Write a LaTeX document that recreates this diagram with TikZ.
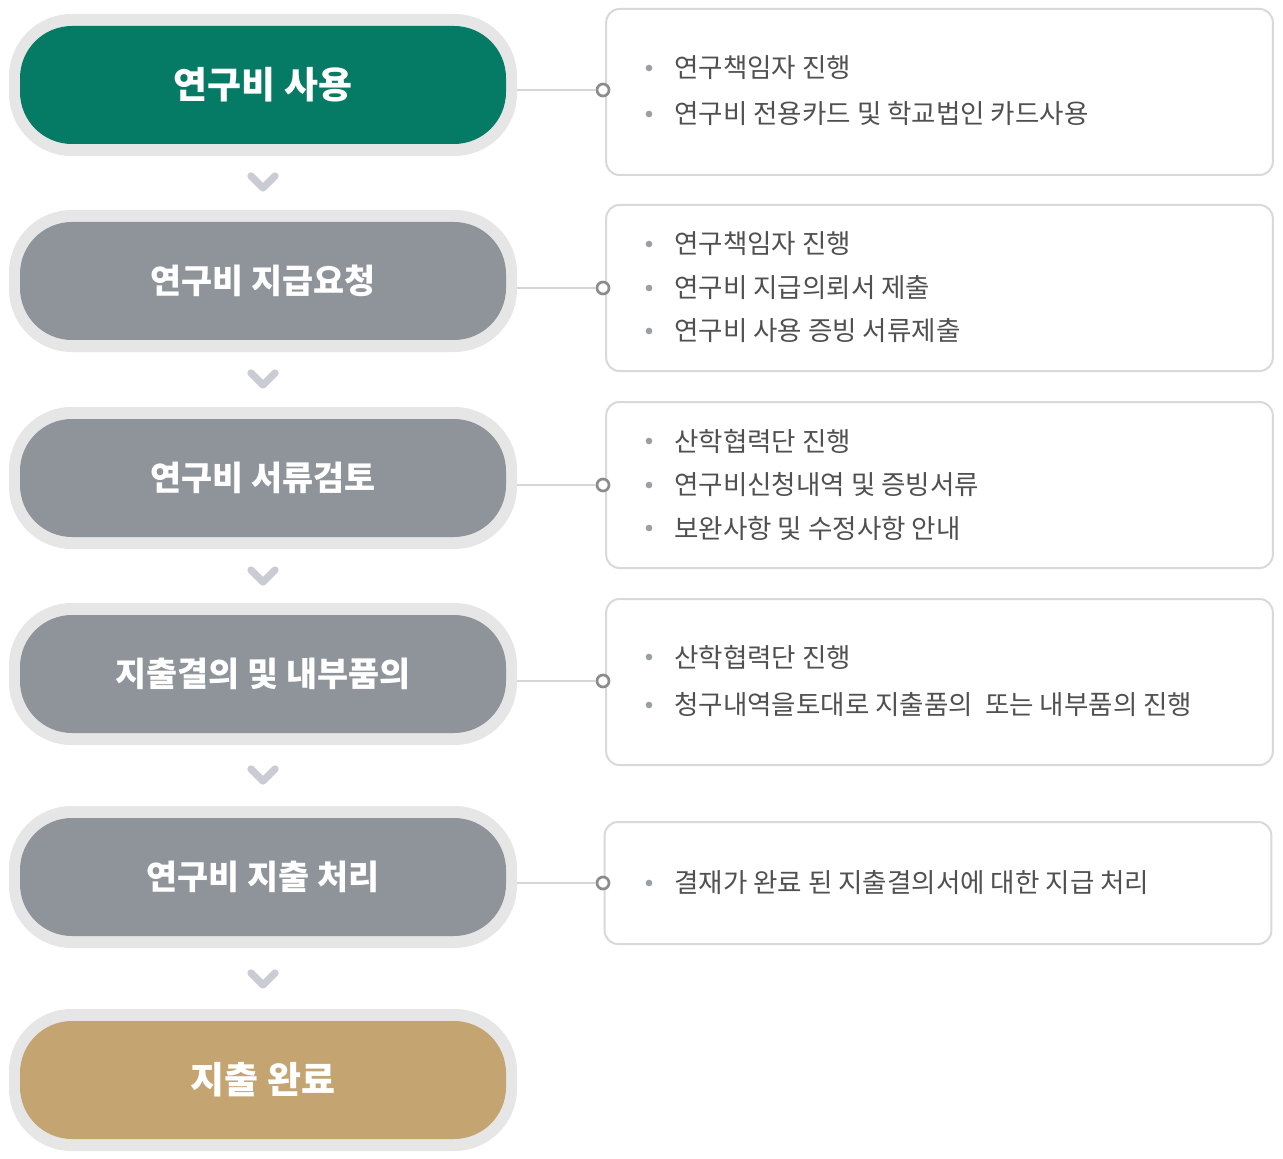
\documentclass[tikz,border=0pt]{standalone}
\usepackage{fontspec}
\setmainfont{Noto Sans CJK KR}
\definecolor{ringgray}{HTML}{E6E6E6}
\definecolor{pgreen}{HTML}{057A65}
\definecolor{pgray}{HTML}{8E949A}
\definecolor{pgold}{HTML}{C4A572}
\definecolor{chev}{HTML}{C9CDD3}
\definecolor{boxline}{HTML}{D9D9D9}
\definecolor{txt}{HTML}{505050}
\definecolor{bul}{HTML}{9A9FA5}
\definecolor{connline}{HTML}{D6D6D6}
\definecolor{dotline}{HTML}{8C8C8C}
\begin{document}
\begin{tikzpicture}[x=0.75pt,y=-0.75pt,
  ring/.style={fill=ringgray, rounded corners=47pt, minimum width=381pt, minimum height=106.5pt, inner sep=0pt},
  pill/.style={rounded corners=39pt, minimum width=364.5pt, minimum height=88.5pt, inner sep=0pt, text=white},
  pilltxt/.style={font=\bfseries\fontsize{25.3}{30}\selectfont},
  pillbig/.style={font=\bfseries\fontsize{27.7}{32}\selectfont},
  infobox/.style={draw=boxline, line width=1.5pt, fill=white, rounded corners=10pt, minimum width=500pt, inner sep=0pt},
  chevron/.style={draw=chev, line width=5.5pt, line cap=round, line join=round},
  conn/.style={draw=connline, line width=2pt},
  knob/.style={circle, draw=dotline, line width=2pt, fill=white, minimum size=9pt, inner sep=0pt},
  bulletdot/.style={circle, fill=bul, minimum size=5pt, inner sep=0pt},
  item/.style={anchor=west, text=txt, inner sep=0pt, font=\fontsize{19.9}{24}\selectfont}
]
\useasboundingbox (0,0) rectangle (1283,1159);

% pills
\node[ring] (r1) at (263,85) {};
\node[pill, fill=pgreen, pillbig] (p1) at (263,85) {연구비 사용};
\node[ring] (r2) at (263,281) {};
\node[pill, fill=pgray, pilltxt] (p2) at (263,281) {연구비 지급요청};
\node[ring] (r3) at (263,478) {};
\node[pill, fill=pgray, pilltxt] (p3) at (263,478) {연구비 서류검토};
\node[ring] (r4) at (263,674) {};
\node[pill, fill=pgray, pilltxt] (p4) at (263,674) {지출결의 및 내부품의};
\node[ring] (r5) at (263,877) {};
\node[pill, fill=pgray, pilltxt] (p5) at (263,877) {연구비 지출 처리};
\node[ring] (r6) at (263,1080) {};
\node[pill, fill=pgold, pillbig] (p6) at (263,1080) {지출 완료};

% chevrons
\foreach \n/\y in {1/182,2/379,3/576,4/775,5/979}{
  \coordinate (v\n) at (263,\y);
  \draw[chevron] ([shift={(-12,-6)}]v\n) -- ([shift={(0,6)}]v\n) -- ([shift={(12,-6)}]v\n);
}

% info boxes
\node[infobox, minimum height=124.5pt] (b1) at (939.5,92) {};
\node[infobox, minimum height=124.5pt] (b2) at (939.5,288) {};
\node[infobox, minimum height=124.5pt] (b3) at (939.5,485) {};
\node[infobox, minimum height=124.5pt] (b4) at (939.5,682) {};
\node[infobox, minimum height=91.5pt] (b5) at (938,883) {};

% connectors
\node[knob] (k1) at (603,90) {};
\node[knob] (k2) at (603,288) {};
\node[knob] (k3) at (603,485) {};
\node[knob] (k4) at (603,681) {};
\node[knob] (k5) at (603,883) {};
\draw[conn] (r1.east |- k1) -- (k1.west);
\draw[conn] (r2.east |- k2) -- (k2.west);
\draw[conn] (r3.east |- k3) -- (k3.west);
\draw[conn] (r4.east |- k4) -- (k4.west);
\draw[conn] (r5.east |- k5) -- (k5.west);

% items
\node[bulletdot] (d11) at (649,68) {};  \node[item] (t11) at (674,68) {연구책임자 진행};
\node[bulletdot] (d12) at (649,114) {}; \node[item] (t12) at (674,114) {연구비 전용카드 및 학교법인 카드사용};

\node[bulletdot] (d21) at (649,244) {}; \node[item] (t21) at (674,244) {연구책임자 진행};
\node[bulletdot] (d22) at (649,288) {}; \node[item] (t22) at (674,288) {연구비 지급의뢰서 제출};
\node[bulletdot] (d23) at (649,331) {}; \node[item] (t23) at (674,331) {연구비 사용 증빙 서류제출};

\node[bulletdot] (d31) at (649,441) {}; \node[item] (t31) at (674,441) {산학협력단 진행};
\node[bulletdot] (d32) at (649,485) {}; \node[item] (t32) at (674,485) {연구비신청내역 및 증빙서류};
\node[bulletdot] (d33) at (649,528) {}; \node[item] (t33) at (674,528) {보완사항 및 수정사항 안내};

\node[bulletdot] (d41) at (649,657) {}; \node[item] (t41) at (674,657) {산학협력단 진행};
\node[bulletdot] (d42) at (649,705) {}; \node[item] (t42) at (674,705) {청구내역을토대로 지출품의 \ 또는 내부품의 진행};

\node[bulletdot] (d51) at (649,883) {}; \node[item] (t51) at (674,883) {결재가 완료 된 지출결의서에 대한 지급 처리};
\end{tikzpicture}
\end{document}
